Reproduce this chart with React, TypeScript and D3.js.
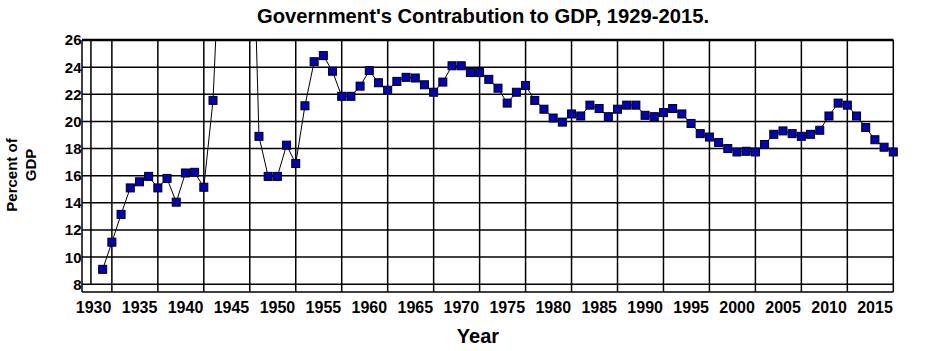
import React from "react";
import * as d3 from "d3";

const years: number[] = [
  1929, 1930, 1931, 1932, 1933, 1934, 1935, 1936, 1937, 1938, 1939, 1940, 1941, 1942, 1943, 1944, 1945,
  1946, 1947, 1948, 1949, 1950, 1951, 1952, 1953, 1954, 1955, 1956, 1957, 1958, 1959, 1960, 1961, 1962,
  1963, 1964, 1965, 1966, 1967, 1968, 1969, 1970, 1971, 1972, 1973, 1974, 1975, 1976, 1977, 1978, 1979,
  1980, 1981, 1982, 1983, 1984, 1985, 1986, 1987, 1988, 1989, 1990, 1991, 1992, 1993, 1994, 1995, 1996,
  1997, 1998, 1999, 2000, 2001, 2002, 2003, 2004, 2005, 2006, 2007, 2008, 2009, 2010, 2011, 2012, 2013,
  2014, 2015,
];

const govShare: number[] = [
  9.1, 11.1, 13.15, 15.1, 15.55, 15.95, 15.1, 15.8, 14.05, 16.2, 16.25, 15.15, 21.55, 36.7, 45.5, 46.0, 43.7,
  18.9, 15.95, 15.95, 18.25, 16.9, 21.15, 24.4, 24.85, 23.7, 21.85, 21.85, 22.6, 23.75, 22.85, 22.3, 22.95, 23.25,
  23.2, 22.7, 22.15, 22.9, 24.1, 24.1, 23.6, 23.6, 23.1, 22.45, 21.35, 22.15, 22.65, 21.55, 20.9, 20.25, 19.95,
  20.55, 20.4, 21.2, 20.95, 20.35, 20.9, 21.2, 21.2, 20.45, 20.35, 20.65, 20.95, 20.55, 19.85, 19.1, 18.85, 18.45,
  18.0, 17.75, 17.8, 17.75, 18.3, 19.05, 19.3, 19.1, 18.9, 19.05, 19.35, 20.4, 21.35, 21.2, 20.4, 19.55, 18.65,
  18.1, 17.75,
];

const xTickYears: number[] = [1930, 1935, 1940, 1945, 1950, 1955, 1960, 1965, 1970, 1975, 1980, 1985, 1990, 1995, 2000, 2005, 2010, 2015];
const xGridYears: number[] = [1930, 1935, 1940, 1945, 1950, 1955, 1960, 1965, 1970, 1975, 1980, 1985, 1990, 1995, 2000, 2005, 2010];
const yTicks: number[] = [8, 10, 12, 14, 16, 18, 20, 22, 24, 26];

const title = "Government's Contrabution to GDP, 1929-2015.";
const xTitle = "Year";
const yTitleLines = ["Percent of", "GDP"];

const X_MIN = 1926.75;
const X_MAX = 2015;
const Y_MIN = 7.43;
const Y_MAX = 26;
const AXIS_YEAR = 1927.72;

const FONT = "'Liberation Sans', Arial, Helvetica, sans-serif";

export default function App() {
  const W = 945;
  const H = 351;
  const left = 82;
  const right = 893.3;
  const top = 40;
  const bottom = 292;

  const x = d3.scaleLinear().domain([X_MIN, X_MAX]).range([left, right]);
  const y = d3.scaleLinear().domain([Y_MIN, Y_MAX]).range([bottom, top]);

  const data = years.map((yr, i) => ({ yr, v: govShare[i] }));
  const line = d3
    .line<{ yr: number; v: number }>()
    .x((d) => x(d.yr))
    .y((d) => y(d.v))
    .curve(d3.curveLinear);

  const markSize = 8;

  return (
    <svg
      width={W}
      height={H}
      style={{ position: "absolute", left: 0, top: 0, background: "#fff" }}
      fontFamily={FONT}
    >
      <defs>
        <clipPath id="plotClip">
          <rect x={left} y={top} width={right - left} height={bottom - top} />
        </clipPath>
      </defs>
      <rect x={0} y={0} width={W} height={H} fill="#fff" />

      {/* title */}
      <text x={483} y={23} textAnchor="middle" fontSize={20.2} fontWeight="bold" fill="#000">
        {title}
      </text>

      {/* horizontal grid */}
      {yTicks.map((t) => (
        <line key={"h" + t} x1={left} x2={right} y1={y(t)} y2={y(t)} stroke="#000" strokeWidth={1.5} />
      ))}
      {/* vertical grid */}
      {xGridYears.map((yr) => (
        <line key={"v" + yr} x1={x(yr)} x2={x(yr)} y1={top} y2={bottom} stroke="#000" strokeWidth={1.5} />
      ))}
      {/* inner axis line */}
      <line x1={x(AXIS_YEAR)} x2={x(AXIS_YEAR)} y1={top} y2={y(8)} stroke="#000" strokeWidth={1.5} />

      {/* frame */}
      <line x1={left} x2={left} y1={top} y2={bottom} stroke="#000" strokeWidth={1.5} />
      <line x1={right} x2={right} y1={top} y2={bottom} stroke="#000" strokeWidth={1.5} />
      <line x1={left} x2={right} y1={bottom} y2={bottom} stroke="#000" strokeWidth={1.5} />
      <line x1={left} x2={right} y1={top} y2={top} stroke="#000" strokeWidth={2.6} />

      {/* y tick labels */}
      {yTicks.map((t) => (
        <text key={"yl" + t} x={left - 0.5} y={y(t)} dy="0.36em" textAnchor="end" fontSize={15} fontWeight="bold" fill="#000">
          {t}
        </text>
      ))}

      {/* x tick labels */}
      {xTickYears.map((yr) => (
        <text key={"xl" + yr} x={x(yr) - 18.3} y={312.5} textAnchor="middle" fontSize={16} fontWeight="bold" fill="#000">
          {yr}
        </text>
      ))}

      {/* axis titles */}
      <text x={478} y={343} textAnchor="middle" fontSize={20} fontWeight="bold" fill="#000">
        {xTitle}
      </text>
      <text transform="translate(16.5,175) rotate(-90)" textAnchor="middle" fontSize={15} fontWeight="bold" fill="#000">
        {yTitleLines[0]}
      </text>
      <text transform="translate(36,165) rotate(-90)" textAnchor="middle" fontSize={15} fontWeight="bold" fill="#000">
        {yTitleLines[1]}
      </text>

      {/* data line */}
      <path d={line(data) || ""} fill="none" stroke="#000" strokeWidth={1} clipPath="url(#plotClip)" />

      {/* markers */}
      {data
        .filter((d) => d.v <= Y_MAX)
        .map((d) => (
          <rect
            key={"m" + d.yr}
            x={x(d.yr) - markSize / 2}
            y={y(d.v) - markSize / 2}
            width={markSize}
            height={markSize}
            fill="#0000c0"
            stroke="#000"
            strokeWidth={1}
          />
        ))}
    </svg>
  );
}
